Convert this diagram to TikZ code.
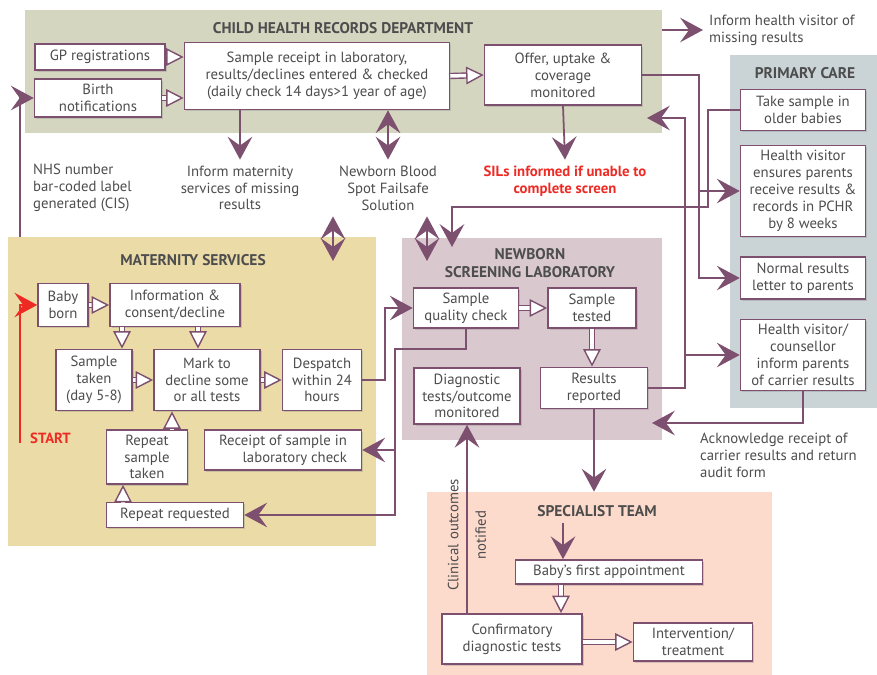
\documentclass[tikz,border=0pt]{standalone}
\usepackage{fontspec}
\setmainfont{PT Sans}
\usetikzlibrary{arrows.meta, positioning, shadows, fit}

\definecolor{mauve}{HTML}{7D506F}
\definecolor{inkgray}{HTML}{4D4D4D}
\definecolor{chrbg}{HTML}{D5D6C0}
\definecolor{pcbg}{HTML}{CAD3D6}
\definecolor{matbg}{HTML}{EBDBA7}
\definecolor{labbg}{HTML}{D9C9CE}
\definecolor{specbg}{HTML}{FCDACC}
\definecolor{startred}{HTML}{EE2A24}

\begin{document}
\begin{tikzpicture}[
        x=0.02cm, y=-0.02cm,
        font=\fontsize{8.4}{9.6}\selectfont,
        every node/.style={text=inkgray},
        box/.style={draw=mauve, fill=white, line width=0.9pt, align=center, inner sep=1pt,
            drop shadow={opacity=0.3, shadow xshift=1pt, shadow yshift=-1pt}},
        sz/.style 2 args={minimum width=#1*0.02cm, minimum height=#2*0.02cm},
        region/.style={inner sep=0pt, draw=none},
        heading/.style={font=\fontsize{8.8}{10.4}\selectfont\bfseries, align=center},
        note/.style={align=center}
    ]

    \tikzset{
    arrow/.style={draw=mauve, line width=1pt, -{Stealth[length=13pt, width=14pt, inset=5pt]}},
    twoway/.style={draw=mauve, line width=1pt, {Stealth[length=13pt, width=14pt, inset=5pt]}-{Stealth[length=13pt, width=14pt, inset=5pt]}},
    hollow/.style={draw=white, line width=2pt, -{Triangle[fill=white, color=mauve, line width=0.8pt, length=10pt, width=10pt]},
        preaction={draw=mauve, line width=3.6pt, -, shorten >=8pt}}
}

    \useasboundingbox (0,0) rectangle (877,675);

    % areas
    \node[region, fill=chrbg, fit={(25,10) (662,133)}] (CHR) {};
    \node[region, fill=pcbg, fit={(730,55) (877,408)}] (PC) {};
    \node[region, fill=matbg, fit={(8,237) (376,546)}] (MS) {};
    \node[region, fill=labbg, fit={(402,238) (662,440)}] (LAB) {};
    \node[region, fill=specbg, fit={(427,492) (772,675)}] (SP) {};

    \node[heading] (CHRt) at (343,28) {CHILD HEALTH RECORDS DEPARTMENT};
    \node[heading] (PCt) at (805,73) {PRIMARY CARE};
    \node[heading] (MSt) at (193,260) {MATERNITY SERVICES};
    \node[heading] (LABt) at (530,263) {NEWBORN\\SCREENING LABORATORY};
    \node[heading] (SPt) at (597,511) {SPECIALIST TEAM};

    % child health records
    \node[box, sz={130}{26}] (GP) at (100,57) {GP registrations};
    \node[box, sz={127}{38}] (BN) at (98,98) {Birth\\notifications};
    \node[box, sz={265}{67}] (SR) at (317,76) {Sample receipt in laboratory,\\results/declines entered \& checked\\(daily check 14 days>1 year of age)};
    \node[box, sz={157}{60}] (OF) at (563,75) {Offer, uptake \&\\coverage\\monitored};

    % primary care
    \node[box, sz={125}{41}] (TS) at (803,110) {Take sample in\\older babies};
    \node[box, sz={125}{91}] (HV) at (803,191) {Health visitor\\ensures parents\\receive results \&\\records in PCHR\\by 8 weeks};
    \node[box, sz={125}{42}] (NR) at (803,278) {Normal results\\letter to parents};
    \node[box, sz={125}{71}] (HC) at (803,355) {Health visitor/\\counsellor\\inform parents\\of carrier results};

    % maternity services
    \node[box, sz={50}{43}] (BB) at (63,305) {Baby\\born};
    \node[box, sz={130}{43}] (IC) at (175,305) {Information \&\\consent/decline};
    \node[box, sz={76}{61}] (ST) at (94,380) {Sample\\taken\\(day 5-8)};
    \node[box, sz={106}{61}] (MK) at (207,380) {Mark to\\decline some\\or all tests};
    \node[box, sz={79}{61}] (DS) at (322,380) {Despatch\\within 24\\hours};
    \node[box, sz={81}{54}] (RS) at (147,457) {Repeat\\sample\\taken};
    \node[box, sz={157}{40}, align=right] (RC) at (283,450) {Receipt of sample in\\laboratory check};
    \node[box, sz={137}{25}] (RR) at (175,515) {Repeat requested};

    % newborn screening laboratory
    \node[box, sz={105}{40}] (QC) at (466,308) {Sample\\quality check};
    \node[box, sz={88}{40}] (TE) at (592,308) {Sample\\tested};
    \node[box, sz={106}{56}] (DG) at (467,396) {Diagnostic\\tests/outcome\\monitored};
    \node[box, sz={107}{41}] (RP) at (594,388) {Results\\reported};

    % specialist team
    \node[box, sz={187}{24}] (FA) at (609,572) {Baby’s first appointment};
    \node[box, sz={140}{50}] (CF) at (512,639) {Confirmatory\\diagnostic tests};
    \node[box, sz={119}{38}] (IN) at (693,642) {Intervention/\\treatment};

    % free texts
    \node[note, anchor=west, align=left] (HVM) at (703,30) {Inform health visitor of\\missing results};
    \node[note, anchor=west, align=left] (NHS) at (27,188) {NHS number\\bar-coded label\\generated (CIS)};
    \node[note] (IM) at (240,188) {Inform maternity\\services of missing\\results};
    \node[note] (FS) at (388,188) {Newborn Blood\\Spot Failsafe\\Solution};
    \node[note, text=startred, font=\fontsize{8.4}{9.6}\selectfont\bfseries] (SIL) at (565,181) {SILs informed if unable to\\complete screen};
    \node[anchor=west, text=startred, font=\fontsize{8.4}{9.6}\selectfont\bfseries] (START) at (24,438) {START};
    \node[note, anchor=west, align=left] (ACK) at (694,455) {Acknowledge receipt of\\carrier results and return\\audit form};
    \node[note, rotate=90] (CO) at (467,535) {Clinical outcomes\\[6pt]notified};

    % loose ends and bus lines
    \coordinate (nhs) at (20,237);
    \coordinate (start) at (20,443);
    \coordinate (busOF) at (699,0);
    \coordinate (busTS) at (708,207);
    \coordinate (busRP) at (685,0);
    \coordinate (busQC) at (395,349);
    \coordinate (busDS) at (385,0);
    \coordinate (labTS) at (452,247);
    \coordinate (chrRP) at (647,118);
    \coordinate (labHC) at (652,423);
    \coordinate (msFS) at (333,261);
    \coordinate (labFS) at (427,261);
    \coordinate (colA) at (122,0);
    \coordinate (colB) at (198,0);
    \coordinate (colC) at (172,0);
    \coordinate (colD) at (123,0);
    \coordinate (colE) at (561,0);
    \coordinate (colF) at (563,0);

    \draw[hollow] (GP.east) -- (SR.west |- GP.east);
    \draw[hollow] (BN.east) -- (SR.west |- BN.east);
    \draw[hollow] (SR.east) -- (OF.west);
    \draw[hollow] (BB.east) -- (IC.west);
    \draw[hollow] (IC.south -| colA) -- (ST.north -| colA);
    \draw[hollow] (IC.south -| colB) -- (MK.north -| colB);
    \draw[hollow] (ST.east) -- (MK.west);
    \draw[hollow] (MK.east) -- (DS.west);
    \draw[hollow] (RS.north -| colC) -- (MK.south -| colC);
    \draw[hollow] (RR.north -| colD) -- (RS.south -| colD);
    \draw[hollow] (QC.east) -- (TE.west);
    \draw[hollow] (TE.south) -- (TE.south |- RP.north);
    \draw[hollow] (FA.south -| colE) -- (CF.north -| colE);
    \draw[hollow] (CF.east |- IN.west) -- (IN.west);

    \draw[arrow] (nhs) |- (BN.west);
    \draw[arrow, startred] (start) |- (BB.west);
    \draw[arrow] (SR.south -| IM.north) -- (IM.north);
    \draw[twoway] (SR.south -| FS.north) -- (FS.north);
    \draw[twoway] (msFS |- FS.south) -- (msFS);
    \draw[twoway] (labFS |- FS.south) -- (labFS);
    \draw[arrow] (OF.south) -- (SIL.north);
    \draw[arrow] (HVM.west -| CHR.east) -- (HVM.west);
    \draw[arrow] (TS.west) -| (busTS) -| (labTS);
    \draw[arrow] (OF.east) -| (busOF |- NR.west) -- (NR.west);
    \draw[arrow] (busOF |- HV.west) -- (HV.west);
    \draw[arrow] (RP.east) -| (busRP |- chrRP) -- (chrRP);
    \draw[arrow] (busRP |- HC.west) -- (HC.west);
    \draw[arrow] (HC.south) |- (labHC);
    \draw[arrow] (DS.east) -| (busDS |- QC.west) -- (QC.west);
    \draw[arrow] (QC.south) |- (busQC) |- (RR.east);
    \draw[arrow] (busQC |- RC.east) -- (RC.east);
    \draw[arrow] (RP.south) -- (RP.south |- SP.north);
    \draw[arrow] (colF |- SPt.south) -- (colF |- FA.north);
    \draw[arrow] (CF.north -| DG.south) -- (DG.south);
    \end{tikzpicture}
\end{document}
